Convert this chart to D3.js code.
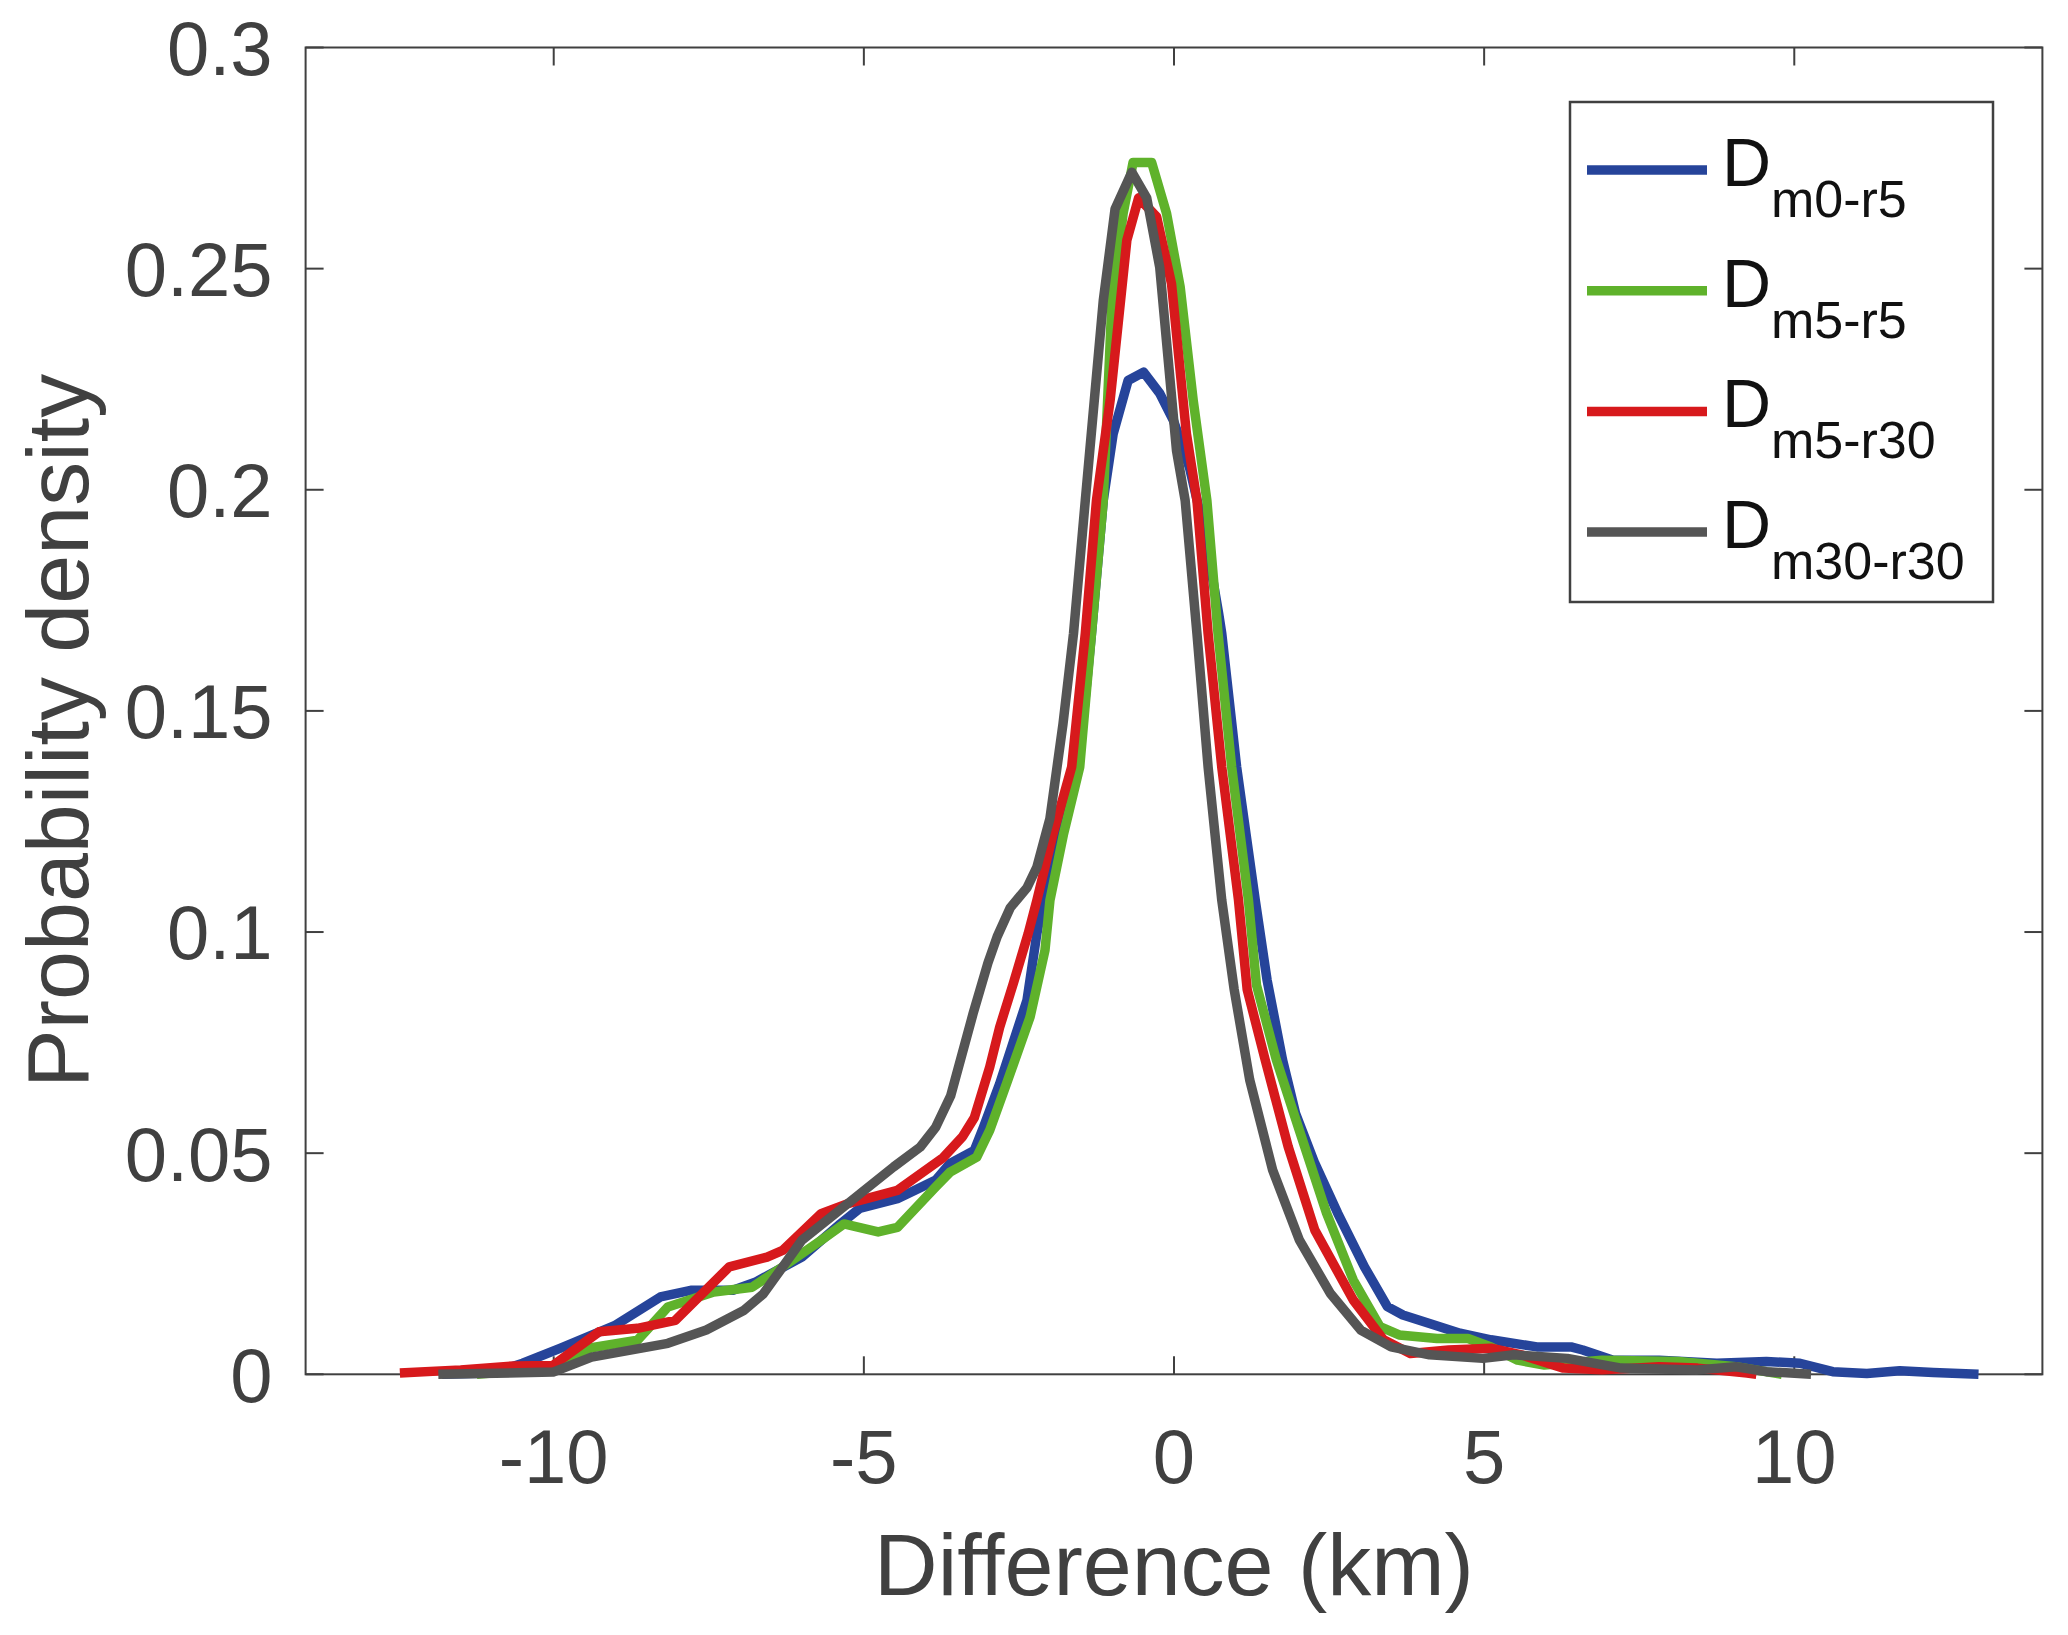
<!DOCTYPE html>
<html>
<head>
<meta charset="utf-8">
<script src="https://cdn.jsdelivr.net/npm/d3@7"></script>
<style>
  body { margin: 0; background: #fff; }
  svg { display: block; font-family: "Liberation Sans", Arial, sans-serif; }
</style>
</head>
<body>
<svg width="2068" height="1635"></svg>
<script>
// series: [difference km, probability density]
const dM0R5 = [[-11.8,0],[-11,0.0003],[-10.5,0.0025],[-9.89,0.0059],[-9.02,0.011],[-8.28,0.0175],[-7.79,0.019],[-7.11,0.019],[-6.74,0.0209],[-6.0,0.0265],[-5.38,0.034],[-5.07,0.0375],[-4.46,0.0397],[-3.84,0.0439],[-3.61,0.0477],[-3.22,0.0506],[-3.07,0.0559],[-2.81,0.0657],[-2.37,0.0846],[-2.21,0.0997],[-2.11,0.1072],[-1.97,0.1147],[-1.84,0.1222],[-1.54,0.1373],[-1.33,0.1675],[-1.14,0.1976],[-0.98,0.2127],[-0.74,0.2247],[-0.49,0.2266],[-0.23,0.2218],[-0.01,0.2157],[0.25,0.205],[0.5,0.19],[0.72,0.172],[0.77,0.1675],[1.01,0.1373],[1.31,0.1072],[1.5,0.0892],[1.75,0.0711],[1.96,0.059],[2.27,0.0477],[2.64,0.0364],[3.07,0.0243],[3.44,0.0153],[3.69,0.0134],[4.12,0.0115],[4.61,0.0093],[5.11,0.0078],[5.85,0.0062],[6.4,0.0062],[6.59,0.0055],[7.08,0.0032],[7.82,0.0032],[8.75,0.0025],[9.55,0.0029],[10.09,0.0025],[10.62,0.0006],[11.17,0.0002],[11.7,0.0008],[12.24,0.0004],[12.97,0]];
const dM5R5 = [[-11.24,0],[-10.01,0.0015],[-9.39,0.006],[-8.65,0.0077],[-8.16,0.0152],[-7.42,0.0186],[-6.8,0.0197],[-6.31,0.0243],[-5.69,0.0303],[-5.32,0.034],[-4.77,0.0322],[-4.46,0.0332],[-3.84,0.0424],[-3.61,0.0457],[-3.18,0.0491],[-2.97,0.0552],[-2.7,0.0657],[-2.32,0.0808],[-2.08,0.0959],[-2.0,0.1072],[-1.89,0.1147],[-1.78,0.1222],[-1.52,0.1373],[-1.33,0.1675],[-1.14,0.1976],[-1.0,0.2428],[-0.82,0.2625],[-0.66,0.274],[-0.36,0.274],[-0.12,0.2625],[0.1,0.2458],[0.31,0.2202],[0.53,0.1976],[0.71,0.1675],[0.93,0.1373],[1.2,0.1072],[1.33,0.088],[1.65,0.0711],[2.02,0.0552],[2.46,0.0364],[2.89,0.0213],[3.32,0.0108],[3.63,0.0089],[4.24,0.0081],[4.74,0.0081],[5.11,0.0062],[5.54,0.0032],[5.97,0.0021],[6.9,0.0032],[8.13,0.0029],[9.06,0.0017],[9.8,0]];
const dM5R30 = [[-12.48,0.0003],[-11.5,0.001],[-10.63,0.0019],[-10.01,0.002],[-9.27,0.0096],[-8.65,0.0104],[-8.04,0.0122],[-7.17,0.0243],[-6.56,0.0265],[-6.31,0.028],[-5.69,0.0363],[-5.26,0.0386],[-4.46,0.0416],[-3.72,0.049],[-3.41,0.0537],[-3.22,0.058],[-2.97,0.0695],[-2.81,0.0785],[-2.59,0.0884],[-2.35,0.0997],[-2.21,0.1072],[-2.08,0.1147],[-1.95,0.1222],[-1.65,0.1373],[-1.43,0.1675],[-1.25,0.1976],[-1.03,0.2202],[-0.76,0.2564],[-0.57,0.266],[-0.28,0.2617],[-0.04,0.2466],[0.2,0.2127],[0.37,0.1976],[0.55,0.1675],[0.77,0.1373],[1.04,0.1072],[1.18,0.087],[1.47,0.0711],[1.84,0.0515],[2.27,0.0326],[2.89,0.0168],[3.38,0.0078],[3.81,0.0047],[4.43,0.0055],[5.11,0.0059],[5.6,0.0044],[6.28,0.0014],[6.9,0.001],[7.82,0.0017],[8.44,0.0014],[9.24,0.0003],[9.39,0]];
const dM30R30 = [[-11.86,0],[-10.01,0.0005],[-9.39,0.0039],[-8.16,0.007],[-7.54,0.01],[-6.93,0.0145],[-6.62,0.0182],[-6.0,0.0303],[-5.26,0.0386],[-4.52,0.0469],[-4.09,0.0514],[-3.84,0.0559],[-3.6,0.063],[-3.24,0.0815],[-3.0,0.093],[-2.85,0.099],[-2.64,0.1055],[-2.37,0.11],[-2.21,0.1147],[-2.0,0.1257],[-1.79,0.147],[-1.62,0.1675],[-1.43,0.1976],[-1.14,0.2428],[-0.95,0.2635],[-0.68,0.2718],[-0.44,0.266],[-0.23,0.2503],[0.04,0.2089],[0.18,0.1976],[0.37,0.1675],[0.55,0.1373],[0.77,0.1072],[0.97,0.087],[1.22,0.0666],[1.59,0.0462],[2.02,0.0304],[2.52,0.0183],[3.01,0.01],[3.5,0.0062],[4.12,0.0044],[4.98,0.0036],[5.48,0.0044],[6.34,0.0036],[7.21,0.0014],[8.44,0.001],[9.06,0.0017],[9.55,0.0006],[10.27,0]];

const seriesNames = ["m0-r5", "m5-r5", "m5-r30", "m30-r30"];
const seriesColors = ["#26449a", "#5fb22b", "#d7191c", "#555555"];
const seriesData = [dM0R5, dM5R5, dM5R30, dM30R30];
const xTicks = [-10, -5, 0, 5, 10];
const yTicks = [0, 0.05, 0.1, 0.15, 0.2, 0.25, 0.3];

const svg = d3.select("svg");
const plotLeft = 305.6, plotRight = 2042.4, plotTop = 47.5, plotBottom = 1374.3;
const axisColor = "#404040";

const x = d3.scaleLinear().domain([-14, 14]).range([plotLeft, plotRight]);
const y = d3.scaleLinear().domain([0, 0.3]).range([plotBottom, plotTop]);

svg.append("rect").attr("width", 2068).attr("height", 1635).attr("fill", "#fff");

// axes box with inward ticks (all four sides)
const tickLen = 18;
const axes = svg.append("g").attr("stroke", axisColor).attr("stroke-width", 2);
axes.append("rect")
  .attr("x", plotLeft).attr("y", plotTop)
  .attr("width", plotRight - plotLeft).attr("height", plotBottom - plotTop)
  .attr("fill", "none");
xTicks.forEach(t => {
  axes.append("line").attr("x1", x(t)).attr("x2", x(t)).attr("y1", plotBottom).attr("y2", plotBottom - tickLen);
  axes.append("line").attr("x1", x(t)).attr("x2", x(t)).attr("y1", plotTop).attr("y2", plotTop + tickLen);
});
yTicks.forEach(t => {
  axes.append("line").attr("x1", plotLeft).attr("x2", plotLeft + tickLen).attr("y1", y(t)).attr("y2", y(t));
  axes.append("line").attr("x1", plotRight).attr("x2", plotRight - tickLen).attr("y1", y(t)).attr("y2", y(t));
});

// tick labels
const tickFont = 76;
svg.append("g").selectAll("text")
  .data(yTicks)
  .join("text")
  .attr("x", plotLeft - 33)
  .attr("y", d => y(d) + tickFont * 0.36)
  .attr("text-anchor", "end")
  .attr("font-size", tickFont)
  .attr("fill", axisColor)
  .text(d => d3.format("~g")(d));

svg.append("g").selectAll("text")
  .data(xTicks)
  .join("text")
  .attr("x", d => x(d))
  .attr("y", plotBottom + 109)
  .attr("text-anchor", "middle")
  .attr("font-size", tickFont)
  .attr("fill", axisColor)
  .text(d => d < 0 ? "-" + Math.abs(d) : d);

// axis titles
svg.append("text")
  .attr("x", (plotLeft + plotRight) / 2)
  .attr("y", 1595)
  .attr("text-anchor", "middle")
  .attr("font-size", 88)
  .attr("fill", axisColor)
  .text("Difference (km)");

svg.append("text")
  .attr("transform", `translate(88,${(plotTop + plotBottom) / 2 + 20}) rotate(-90)`)
  .attr("text-anchor", "middle")
  .attr("font-size", 88)
  .attr("fill", axisColor)
  .text("Probability density");

// curves
const line = d3.line().x(d => x(d[0])).y(d => y(d[1]));
svg.append("g").selectAll("path")
  .data(seriesData)
  .join("path")
  .attr("d", line)
  .attr("fill", "none")
  .attr("stroke", (d, i) => seriesColors[i])
  .attr("stroke-width", 9.5)
  .attr("stroke-linejoin", "round");

// legend
const legend = svg.append("g");
legend.append("rect")
  .attr("x", 1570).attr("y", 102)
  .attr("width", 423).attr("height", 500)
  .attr("fill", "#fff")
  .attr("stroke", axisColor)
  .attr("stroke-width", 2.5);

const rowY = i => 170 + i * 120.7;
seriesNames.forEach((name, i) => {
  legend.append("line")
    .attr("x1", 1587).attr("x2", 1707)
    .attr("y1", rowY(i)).attr("y2", rowY(i))
    .attr("stroke", seriesColors[i])
    .attr("stroke-width", 9.5);
  legend.append("text")
    .attr("x", 1722).attr("y", rowY(i) + 16)
    .attr("font-size", 68)
    .attr("fill", "#111")
    .text("D");
  legend.append("text")
    .attr("x", 1771).attr("y", rowY(i) + 47)
    .attr("font-size", 52)
    .attr("fill", "#111")
    .text(name);
});
</script>
</body>
</html>
